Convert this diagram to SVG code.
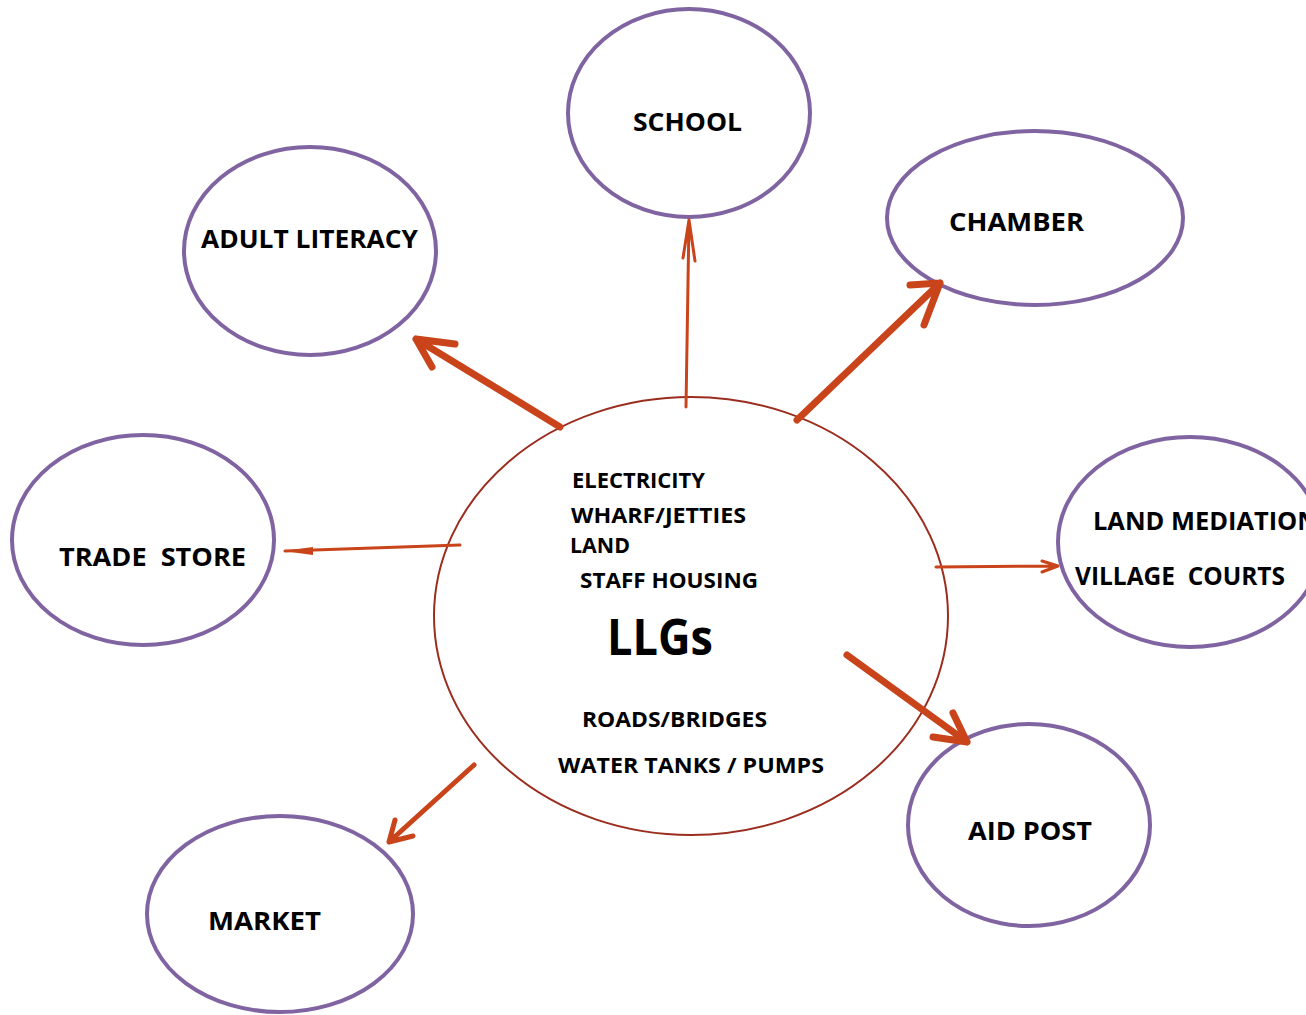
<svg xmlns="http://www.w3.org/2000/svg" width="1306" height="1015" viewBox="0 0 1306 1015">
<style>
.node{fill:#fff;stroke:#8064A2;stroke-width:4}
.center{fill:#fff;stroke:#9B2D1F;stroke-width:2}
.t{font-family:"Open Sans","Liberation Sans",sans-serif;font-weight:bold;fill:#000}
.n{font-size:25px}
.s{font-size:22px}
.a{fill:none;stroke:#C9441A;stroke-linecap:round;stroke-linejoin:round}
</style>
<rect width="1306" height="1015" fill="#fff"/>
<g id="llgs">
<ellipse class="center" cx="691" cy="616" rx="257" ry="219"/>
<text class="t s" x="572" y="488" textLength="133" lengthAdjust="spacingAndGlyphs">ELECTRICITY</text>
<text class="t s" x="571" y="523" textLength="175" lengthAdjust="spacingAndGlyphs">WHARF/JETTIES</text>
<text class="t s" x="570" y="553" textLength="60" lengthAdjust="spacingAndGlyphs">LAND</text>
<text class="t s" x="580" y="588" textLength="178" lengthAdjust="spacingAndGlyphs">STAFF HOUSING</text>
<text class="t" x="607" y="655" font-size="50" textLength="106" lengthAdjust="spacingAndGlyphs">LLGs</text>
<text class="t s" x="582" y="727" textLength="185" lengthAdjust="spacingAndGlyphs">ROADS/BRIDGES</text>
<text class="t s" x="558" y="773" textLength="266" lengthAdjust="spacingAndGlyphs">WATER TANKS / PUMPS</text>
</g>
<g id="school">
<ellipse class="node" cx="689" cy="113" rx="121" ry="104"/>
<text class="t n" x="633" y="131" textLength="109" lengthAdjust="spacingAndGlyphs">SCHOOL</text>
</g>
<g id="adult-literacy">
<ellipse class="node" cx="310" cy="251" rx="126" ry="104"/>
<text class="t n" x="201" y="248" textLength="217" lengthAdjust="spacingAndGlyphs">ADULT LITERACY</text>
</g>
<g id="chamber">
<ellipse class="node" cx="1035" cy="218" rx="148" ry="87"/>
<text class="t n" x="949" y="231" textLength="135" lengthAdjust="spacingAndGlyphs">CHAMBER</text>
</g>
<g id="trade-store">
<ellipse class="node" cx="143" cy="540" rx="131" ry="105"/>
<text class="t n" x="59" y="566" textLength="187" lengthAdjust="spacingAndGlyphs" xml:space="preserve">TRADE  STORE</text>
</g>
<g id="land-mediation">
<ellipse class="node" cx="1190" cy="542" rx="132" ry="105"/>
<text class="t n" x="1093" y="530" textLength="225" lengthAdjust="spacingAndGlyphs">LAND MEDIATION</text>
<text class="t n" x="1075" y="585" textLength="210" lengthAdjust="spacingAndGlyphs" xml:space="preserve">VILLAGE  COURTS</text>
</g>
<g id="aid-post">
<ellipse class="node" cx="1029" cy="825" rx="121" ry="101"/>
<text class="t n" x="968" y="840" textLength="124" lengthAdjust="spacingAndGlyphs">AID POST</text>
</g>
<g id="market">
<ellipse class="node" cx="280" cy="914" rx="133" ry="98"/>
<text class="t n" x="208" y="930" textLength="113" lengthAdjust="spacingAndGlyphs">MARKET</text>
</g>
<g id="connectors">
<path class="a" stroke-width="7" d="M560,427 L416,339 M432,367 L416,339 L455,344"/>
<path class="a" stroke-width="7" d="M797,420 L940,283 M910,285 L940,283 L924,325"/>
<path class="a" stroke-width="3" d="M686,407 L689,220 M683,258 L689,220 L695,261"/>
<path class="a" stroke-width="3" d="M460,545 L285,551"/>
<polygon points="283,551 313,547 313,555" fill="#C9441A"/>
<path class="a" stroke-width="3" d="M936,567 L1058,566 M1042,561 L1058,566 L1042,572"/>
<path class="a" stroke-width="5" d="M474,765 L389,842 M395,820 L389,842 L413,836"/>
<path class="a" stroke-width="7" d="M847,655 L967,742 M953,713 L967,742 L933,737"/>
</g>
</svg>
